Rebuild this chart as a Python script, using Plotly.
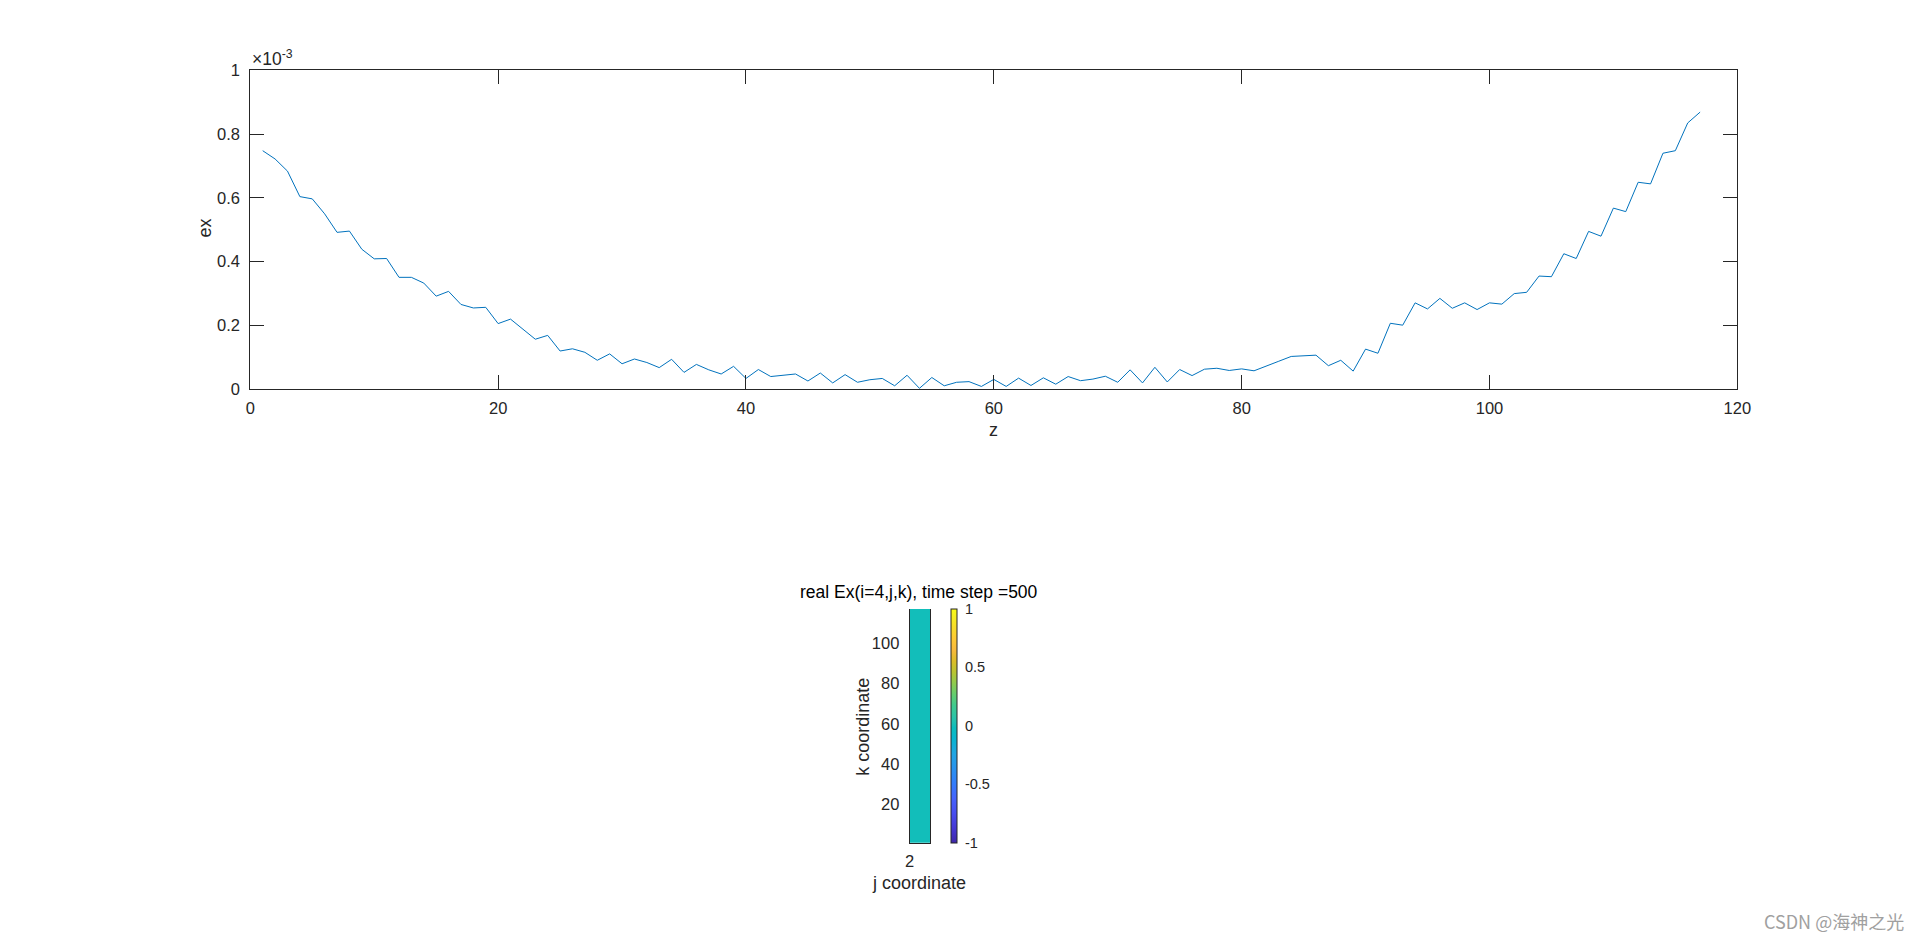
import plotly.graph_objects as go

# ---------------- data ----------------
z_index = list(range(1, 118))
ex_milli = [
    0.748, 0.722, 0.684, 0.604, 0.597, 0.550, 0.492, 0.496, 0.439, 0.409,
    0.410, 0.351, 0.351, 0.333, 0.292, 0.307, 0.266, 0.255, 0.257, 0.206,
    0.220, 0.188, 0.157, 0.169, 0.120, 0.127, 0.116, 0.091, 0.111, 0.080,
    0.095, 0.084, 0.068, 0.094, 0.053, 0.078, 0.061, 0.048, 0.072, 0.034,
    0.062, 0.040, 0.043, 0.048, 0.026, 0.051, 0.020, 0.046, 0.022, 0.030,
    0.034, 0.011, 0.044, 0.003, 0.037, 0.011, 0.022, 0.024, 0.009, 0.031,
    0.009, 0.035, 0.012, 0.036, 0.016, 0.040, 0.027, 0.032, 0.041, 0.022,
    0.061, 0.020, 0.069, 0.023, 0.062, 0.043, 0.063, 0.066, 0.059, 0.064,
    0.058, 0.074, 0.088, 0.103, 0.105, 0.107, 0.074, 0.091, 0.057, 0.126,
    0.113, 0.207, 0.201, 0.271, 0.252, 0.285, 0.254, 0.271, 0.250, 0.271,
    0.267, 0.300, 0.304, 0.355, 0.353, 0.425, 0.410, 0.495, 0.480, 0.568,
    0.557, 0.649, 0.644, 0.740, 0.748, 0.835, 0.869,
]
ex_values = [v * 1e-3 for v in ex_milli]

x_ticks = [0, 20, 40, 60, 80, 100, 120]
y_ticks_milli = [0, 0.2, 0.4, 0.6, 0.8, 1.0]
y_tick_labels = ["0", "0.2", "0.4", "0.6", "0.8", "1"]

# pcolor field: real Ex(i=4, j, k) -> all zeros at time step 500
j_edges = [2, 3]
k_edges = list(range(1, 118))
field = [[0.0] for _ in range(116)]
k_ticks = [20, 40, 60, 80, 100]
j_ticks = [2]
cbar_ticks = [-1, -0.5, 0, 0.5, 1]
cbar_labels = ["-1", "-0.5", "0", "0.5", "1"]

# parula colormap (style)
parula_rows = [
    (0.2422, 0.1504, 0.6603), (0.2706, 0.2147, 0.8364), (0.2813, 0.3006, 0.9414),
    (0.2699, 0.3892, 0.9906), (0.1963, 0.4847, 0.9892), (0.1540, 0.5902, 0.9218),
    (0.1248, 0.6459, 0.8883), (0.0297, 0.7082, 0.8163), (0.0433, 0.7411, 0.7394),
    (0.0964, 0.7500, 0.7120), (0.1717, 0.7670, 0.6554), (0.2470, 0.7918, 0.5567),
    (0.3909, 0.8029, 0.4354), (0.5616, 0.7942, 0.3045), (0.7242, 0.7698, 0.1910),
    (0.8634, 0.7406, 0.1596), (0.9728, 0.7298, 0.2394), (0.9952, 0.7893, 0.2028),
    (0.9676, 0.8639, 0.1643), (0.9628, 0.9373, 0.1265), (0.9769, 0.9839, 0.0805),
]
parula_pos = [0, 4, 8, 12, 16, 21, 24, 28, 31, 32, 34, 37, 40, 43, 46, 49, 52, 55, 58, 61, 63]
parula = [[p / 63.0, "rgb(%d,%d,%d)" % tuple(round(c * 255) for c in rgb)]
          for p, rgb in zip(parula_pos, parula_rows)]

W, H = 1920, 937
def px(x):
    return x / W
def py(y):
    return 1 - y / H

FONT = "Liberation Sans, Arial, sans-serif"
AX = "#262626"
TICK = 16.5
LABEL = 18

fig = go.Figure()
fig.add_trace(go.Scatter(
    x=z_index, y=ex_values, mode="lines",
    line=dict(color="#0072BD", width=1), showlegend=False,
    xaxis="x", yaxis="y",
))
fig.add_trace(go.Heatmap(
    z=field, x=j_edges, y=k_edges, colorscale=parula, zmin=-1, zmax=1,
    xaxis="x2", yaxis="y2",
    colorbar=dict(
        thickness=6, thicknessmode="pixels",
        len=233.7, lenmode="pixels",
        x=px(950.7), xanchor="left", y=py(725.85), yanchor="middle",
        outlinewidth=1, outlinecolor=AX, borderwidth=0, xpad=0, ypad=0,
        ticks="outside", ticklen=5, tickcolor="rgba(0,0,0,0)",
        tickvals=cbar_ticks, ticktext=cbar_labels,
        tickfont=dict(family=FONT, size=14.5, color=AX),
    ),
))

fig.update_layout(
    width=W, height=H, autosize=False,
    margin=dict(l=0, r=0, t=0, b=0, autoexpand=False),
    paper_bgcolor="white", plot_bgcolor="white",
    font=dict(family=FONT, size=TICK, color=AX),
    xaxis=dict(
        domain=[px(250.3), px(1737.3)], range=[0, 120],
        tickvals=x_ticks, ticks="inside", ticklen=14, tickcolor=AX,
        showline=True, linecolor=AX, linewidth=1, mirror="ticks",
        showgrid=False, zeroline=False, ticklabelstandoff=4,
        tickfont=dict(size=TICK, color=AX), anchor="y",
    ),
    yaxis=dict(
        domain=[py(389.3), py(70.3)], range=[0, 1e-3],
        tickvals=[v * 1e-3 for v in y_ticks_milli], ticktext=y_tick_labels,
        ticks="inside", ticklen=14, tickcolor=AX,
        showline=True, linecolor=AX, linewidth=1, mirror="ticks",
        showgrid=False, zeroline=False, ticklabelstandoff=6,
        tickfont=dict(size=TICK, color=AX), anchor="x",
    ),
    xaxis2=dict(
        domain=[px(909.7), px(930.3)], range=[2, 3],
        tickvals=j_ticks, ticks="", showline=True, linecolor=AX, linewidth=1,
        mirror=False, showgrid=False, zeroline=False, ticklabelstandoff=3,
        tickfont=dict(size=TICK, color=AX), anchor="y2",
    ),
    yaxis2=dict(
        domain=[py(842.7), py(609)], range=[1, 117],
        tickvals=k_ticks, ticks="", showline=True, linecolor=AX, linewidth=1,
        mirror=True, showgrid=False, zeroline=False, ticklabelstandoff=6,
        tickfont=dict(size=TICK, color=AX), anchor="x2",
    ),
)

ann = [
    dict(text="ex", x=px(204.5), y=py(228), textangle=-90, size=LABEL),
    dict(text="z", x=px(993.3), y=py(430), size=LABEL),
    dict(text="real Ex(i=4,j,k), time step =500", x=px(919), y=py(592), size=17.5, color="#000000"),
    dict(text="k coordinate", x=px(863), y=py(726.7), textangle=-90, size=LABEL),
    dict(text="j coordinate", x=px(919.3), y=py(883.3), size=LABEL),
]
for a in ann:
    fig.add_annotation(
        text=a["text"], x=a["x"], y=a["y"], xref="paper", yref="paper",
        xanchor="center", yanchor="middle", showarrow=False,
        textangle=a.get("textangle", 0),
        font=dict(family=FONT, size=a["size"], color=a.get("color", AX)),
    )

fig.add_annotation(
    text="×10<sup>-3</sup>", x=px(250), y=py(58), xref="paper", yref="paper",
    xanchor="left", yanchor="middle", showarrow=False,
    font=dict(family=FONT, size=17.5, color=AX),
)
fig.add_annotation(
    text="CSDN @海神之光", x=px(1906), y=py(920.7), xref="paper", yref="paper",
    xanchor="right", yanchor="middle", showarrow=False,
    font=dict(family="Noto Sans CJK SC, sans-serif", size=18, color="#a0a0a0"),
)

fig.write_html(
    "out.html",
    post_script="document.body.style.margin='0px';document.body.style.overflow='hidden';",
)
